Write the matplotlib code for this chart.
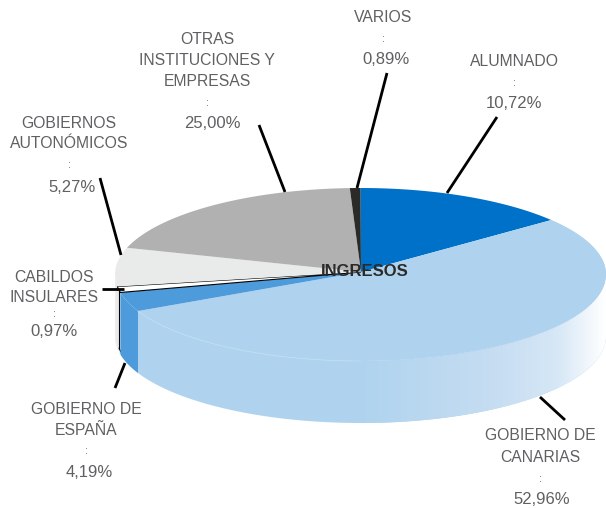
import numpy as np
import matplotlib
matplotlib.use("Agg")
import matplotlib.pyplot as plt
from matplotlib.patches import Polygon
from matplotlib.colors import LinearSegmentedColormap

# Labels and published percentages
categories = ["ALUMNADO", "GOBIERNO DE\nCANARIAS", "GOBIERNO DE\nESPAÑA", "CABILDOS\nINSULARES",
              "GOBIERNOS\nAUTONÓMICOS", "OTRAS\nINSTITUCIONES Y\nEMPRESAS", "VARIOS"]
pct_labels = ["10,72%", "52,96%", "4,19%", "0,97%", "5,27%", "25,00%", "0,89%"]
# Sweep of each slice as drawn in the picture (tilted pie, degrees clockwise from 12 o'clock)
drawn_sweep = [51, 194, 13, 4, 26, 69.5, 2.5]
colors = ["#0071C9", "#AFD3EE", "#4D9BDB", "#FFFFFF", "#E9EAEA", "#B0B1B0", "#2B2A29"]
center_title = "INGRESOS"

# Layout (pixels)
cx, cy, rx, ry, depth = 360.5, 274.5, 245.5, 86.5, 62
vx, vy = 361, 272
label_xy = [(514, 62), (540, 436), (86, 409), (54, 278), (69, 123), (207, 39), (383, 18)]
pct_dx = [0, 2, 3, 0, 3, 5, 3]
line_pitch = [21.5, 21.5, 21.5, 19, 20.5, 21.5, 21.5]
pct_pitch = [21, 21, 21, 17, 22, 21, 21]
leaders = [((497, 117), (447, 193)), ((540, 397), (565, 420)), ((125, 363), (115, 388)),
           ((102, 289), (124, 289)), ((100, 178), (121, 255)), ((259, 125), (285, 192)),
           ((387, 73), (357, 188))]
TEXT = "#5F6062"
plt.rcParams["font.family"] = ["Liberation Sans", "DejaVu Sans"]

fig = plt.figure(figsize=(6.06, 5.08), dpi=100)
ax = fig.add_axes([0, 0, 1, 1])
ax.set_xlim(0, 606); ax.set_ylim(508, 0); ax.axis("off")


def rim(a0, a1, n=120):
    t = np.radians(np.linspace(a0, a1, n))
    return np.column_stack([cx + rx * np.sin(t), cy - ry * np.cos(t)])


edges = np.concatenate([[0], np.cumsum(drawn_sweep)])


def wall_pts(a0, a1):
    r = rim(a0, a1)
    return np.vstack([r, r[::-1] + [0, depth]])


# Side walls (back to front)
ax.add_patch(Polygon(wall_pts(edges[3], edges[4] + 6), closed=True, fc=colors[4], ec="none", zorder=1))
# Narrow white wall of the Cabildos slice, inset, with its black outline
inset = rim(edges[3] - 0.5, edges[4] - 0.5) + [1.5, 0]
inset_low = inset + [0, depth - 1]
ax.add_patch(Polygon(np.vstack([inset, inset_low[::-1]]), closed=True, fc=colors[3], ec="none", zorder=2))
ax.plot([inset[-1, 0], inset_low[-1, 0]], [inset[-1, 1], inset_low[-1, 1]], color="black", lw=0.8, zorder=3)
ax.plot(inset_low[:, 0], inset_low[:, 1], color="black", lw=0.8, zorder=3)
ax.add_patch(Polygon(wall_pts(edges[2], edges[3]), closed=True, fc=colors[2], ec="none", zorder=3))
ax.add_patch(Polygon(wall_pts(edges[1], edges[2]), closed=True, fc=colors[1], ec="none", zorder=2))

grad = LinearSegmentedColormap.from_list("g", [(0, "#AFD3EE"), (0.55, "#C6DDF2"), (0.8, "#D6E7F6"), (1, "#FFFFFF")])
im = ax.imshow(np.linspace(0, 1, 256)[None, :], extent=[360, 606, 430, 260], cmap=grad, aspect="auto", zorder=3)
ax.set_xlim(0, 606); ax.set_ylim(508, 0)
mask = Polygon(wall_pts(90, 180), closed=True, transform=ax.transData, fc="none", ec="none")
ax.add_patch(mask)
im.set_clip_path(mask)

# Top faces
for i, c in enumerate(colors):
    pts = np.vstack([[[vx, vy]], rim(edges[i], edges[i + 1])])
    ax.add_patch(Polygon(pts, closed=True, fc=c, ec="black" if i == 3 else "none", lw=0.8 if i == 3 else 0, zorder=4))
seam = rim(180, edges[2])
ax.plot(seam[:, 0], seam[:, 1], color="#C0DCF2", lw=0.6, zorder=5)

for (a, b) in leaders:
    ax.plot([a[0], b[0]], [a[1], b[1]], color="black", lw=2.0, solid_capstyle="butt", zorder=6)

for name, pct, (x, y), lp, pp, dx in zip(categories, pct_labels, label_xy, line_pitch, pct_pitch, pct_dx):
    lines = name.split("\n")
    for k, s in enumerate(lines):
        ax.text(x, y + k * lp, s, ha="center", va="center", fontsize=11.3, color=TEXT, zorder=7)
    base = y + (len(lines) - 1) * lp
    ax.text(x, base + pp, ":", ha="center", va="center", fontsize=7.5, color=TEXT, zorder=7)
    ax.text(x + dx, base + 2 * pp, pct, ha="center", va="center", fontsize=12, color=TEXT, zorder=7)

ax.text(365, 272, center_title, ha="center", va="center", fontsize=12, fontweight="bold", color="#2B2A29", zorder=8)
fig.savefig("out.png", dpi=100)
